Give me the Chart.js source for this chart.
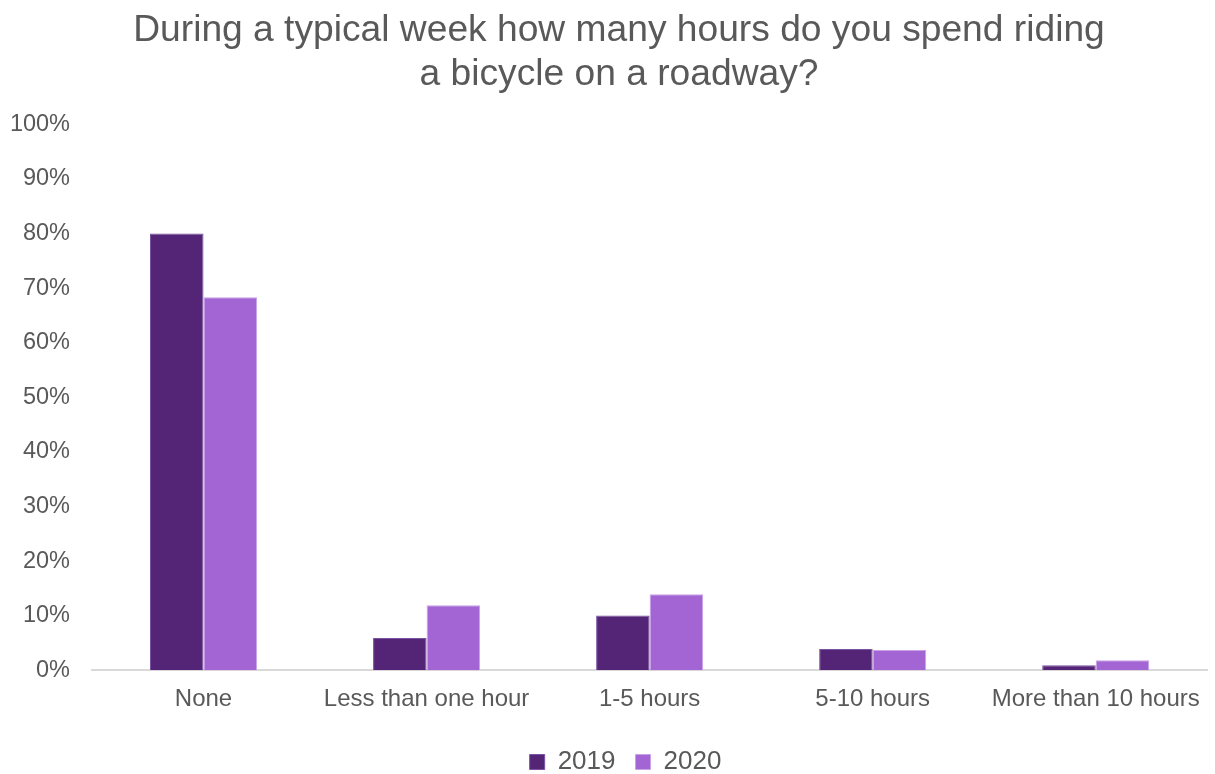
<!DOCTYPE html>
<html>
<head>
<meta charset="utf-8">
<script src="https://cdn.jsdelivr.net/npm/chart.js@4"></script>
<style>
  html, body { margin: 0; padding: 0; background: #fff; }
  #wrap { width: 1215px; height: 774px; }
</style>
</head>
<body>
<div id="wrap"><canvas id="myChart"></canvas></div>
<script>
const categories = ['None', 'Less than one hour', '1-5 hours', '5-10 hours', 'More than 10 hours'];
const values2019 = [80, 5.9, 10, 3.9, 0.9];
const values2020 = [68.3, 11.9, 13.9, 3.7, 1.8];
const seriesLabels = ['2019', '2020'];

const textColor = '#595959';
const fontFamily = 'Liberation Sans, Arial';
const ctx = document.getElementById('myChart').getContext('2d');

// nudge title and legend a little to the right of the canvas centre
const blockOffset = {
    id: 'blockOffset',
    afterLayout(chart) {
        if (chart.titleBlock) chart.titleBlock.left += 25;
        if (chart.legend) chart.legend.left += 38;
    }
};

const data = {
    labels: categories,
    datasets: [{
        label: seriesLabels[0],
        data: values2019,
        backgroundColor: '#542577',
        borderColor: '#7a52a0',
        borderWidth: 1
    }, {
        label: seriesLabels[1],
        data: values2020,
        backgroundColor: '#a365d3',
        borderColor: '#c9a2e8',
        borderWidth: 1
    }]
};

const config = {
    type: 'bar',
    data: data,
    plugins: [blockOffset],
    options: {
        responsive: true,
        maintainAspectRatio: false,
        animation: false,
        layout: { padding: { left: 0, right: 2, top: 0, bottom: -11 } },
        datasets: {
            bar: { categoryPercentage: 0.48, barPercentage: 1 }
        },
        scales: {
            x: {
                grid: { display: false, drawTicks: false },
                border: { color: '#d9d9d9', width: 2 },
                ticks: {
                    color: textColor,
                    font: { family: fontFamily, size: 24 },
                    padding: 15
                }
            },
            y: {
                min: 0,
                max: 100,
                grid: { display: false, drawTicks: false },
                border: { display: false },
                ticks: {
                    stepSize: 10,
                    color: textColor,
                    font: { family: fontFamily, size: 23.5 },
                    padding: 22,
                    callback: v => v + '%'
                },
                afterFit: scale => { scale.width = 92; }
            }
        },
        plugins: {
            title: {
                display: true,
                text: ['During a typical week how many hours do you spend riding', 'a bicycle on a roadway?'],
                color: textColor,
                font: { family: fontFamily, size: 37.2, weight: 'normal', lineHeight: 1.2 },
                padding: { top: 8, bottom: 27 }
            },
            legend: {
                display: true,
                position: 'bottom',
                labels: {
                    color: textColor,
                    font: { family: fontFamily, size: 26 },
                    boxWidth: 15,
                    boxHeight: 15,
                    padding: 20,
                    useBorderRadius: false
                }
            },
            tooltip: { enabled: false }
        }
    }
};

const myChart = new Chart(ctx, config);
</script>
</body>
</html>
